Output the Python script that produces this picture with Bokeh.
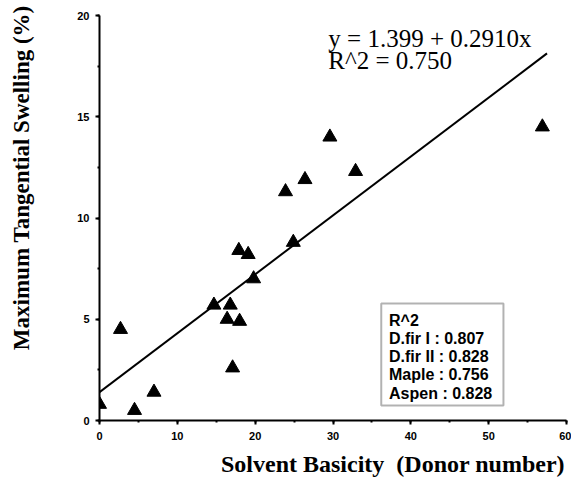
import math
from bokeh.plotting import figure
from bokeh.models import Range1d, Label, BoxAnnotation, SingleIntervalTicker
from bokeh.embed import file_html
from bokeh.resources import INLINE

# Data
donor = [0, 2.7, 4.5, 7.0, 14.7, 16.4, 16.8, 17.1, 18.0, 17.9, 19.1, 19.8,
         23.9, 24.9, 26.4, 29.6, 32.9, 56.9]
swelling = [0.8, 4.5, 0.5, 1.4, 5.7, 5.0, 5.7, 2.6, 4.9, 8.4, 8.2, 7.0,
            11.3, 8.8, 11.9, 14.0, 12.3, 14.5]
intercept = 1.399
slope = 0.2910
fit_x = [0, 57.5]
fit_y = [intercept + slope * v for v in fit_x]

eq_lines = ["y = 1.399 + 0.2910x", "R^2 = 0.750"]
legend_lines = ["R^2", "D.fir I : 0.807", "D.fir II : 0.828", "Maple : 0.756", "Aspen : 0.828"]
NB = "\u00a0"
x_title = "Solvent Basicity" + NB + " (Donor number)"
y_title = "Maximum Tangential Swelling (%)"

p = figure(width=571, height=479, output_backend="svg", toolbar_location=None,
           x_range=Range1d(0, 60), y_range=Range1d(0, 20),
           min_border_left=99, min_border_right=5, min_border_top=15, min_border_bottom=56)
p.outline_line_color = None
p.xgrid.visible = False
p.ygrid.visible = False

p.xaxis.ticker = SingleIntervalTicker(interval=10, num_minor_ticks=2)
p.yaxis.ticker = SingleIntervalTicker(interval=5, num_minor_ticks=2)
for ax in (p.xaxis, p.yaxis):
    ax.axis_line_width = 2
    ax.axis_line_color = "black"
    ax.major_tick_line_width = 2
    ax.major_tick_line_color = "black"
    ax.minor_tick_line_width = 2
    ax.minor_tick_line_color = "black"
    ax.major_tick_out = 4
    ax.major_tick_in = 0
    ax.minor_tick_out = 2
    ax.minor_tick_in = 0
    ax.major_label_text_font = "Liberation Sans"
    ax.major_label_text_font_style = "bold"
    ax.major_label_text_font_size = "11px"
    ax.major_label_text_color = "black"
    ax.axis_label_text_font = "Liberation Serif"
    ax.axis_label_text_font_style = "bold"
    ax.axis_label_text_color = "black"
p.xaxis.major_label_standoff = 7
p.yaxis.major_label_standoff = 6

p.xaxis.axis_label = NB * 20 + x_title
p.xaxis.axis_label_text_font_size = "24px"
p.xaxis.axis_label_standoff = 8
p.yaxis.axis_label = NB * 14 + y_title
p.yaxis.axis_label_text_font_size = "23px"
p.yaxis.axis_label_standoff = 40

p.line(fit_x, fit_y, line_color="black", line_width=2)
p.scatter(donor, swelling, marker="triangle", size=14, fill_color="black", line_color="black")

# Regression equation
p.add_layout(Label(x=29.4, y=18.85, text=eq_lines[0], text_font="Liberation Serif",
                   text_font_size="25px", text_color="black", text_baseline="alphabetic"))
p.add_layout(Label(x=29.4, y=17.78, text=eq_lines[1], text_font="Liberation Serif",
                   text_font_size="25px", text_color="black", text_baseline="alphabetic"))

# R^2 box
p.add_layout(BoxAnnotation(left=36.2, right=51.9, top=5.78, bottom=0.74,
                           fill_color="white", fill_alpha=1.0,
                           line_color="black", line_width=2))
base_y = [4.95, 4.03, 3.15, 2.25, 1.35]
for txt, yy in zip(legend_lines, base_y):
    p.add_layout(Label(x=37.2, y=yy, text=txt, text_font="Liberation Sans",
                       text_font_style="bold", text_font_size="16px",
                       text_color="black", text_baseline="alphabetic"))

open("out.html", "w").write(file_html(p, INLINE))
